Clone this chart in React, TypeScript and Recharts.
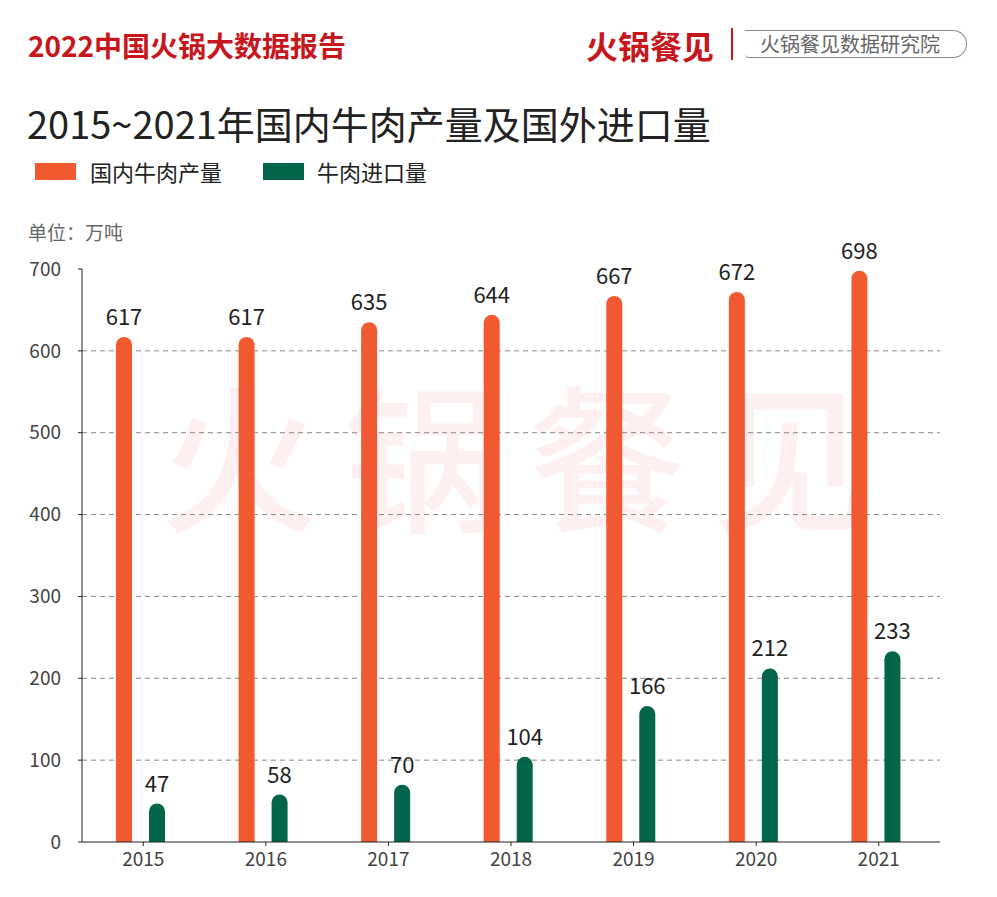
import { Bar, BarChart, CartesianGrid, LabelList, XAxis, YAxis } from "recharts";

const years = ["2015", "2016", "2017", "2018", "2019", "2020", "2021"];
const domestic = [617, 617, 635, 644, 667, 672, 698];
const imports = [47, 58, 70, 104, 166, 212, 233];
const yTicks = [0, 100, 200, 300, 400, 500, 600, 700];
const gridValues = [100, 200, 300, 400, 500, 600];

const rows = years.map((year, i) => ({ year, domestic: domestic[i], imports: imports[i] }));

const FONT = '"Noto Sans CJK SC", "Noto Sans", sans-serif';
const ORANGE = "#f15a31";
const GREEN = "#03664a";
const RED = "#c8161d";

// bars in the source sit a few px left of the band centre
const Shifted = (props: any) => {
  const { x, y, width, height, fill } = props;
  if (!height || height <= 0) return null;
  const r = Math.min(width / 2, height);
  const left = x - 3;
  const d = `M${left},${y + height} L${left},${y + r} A${r},${r} 0 0 1 ${left + width},${y + r} L${left + width},${y + height} Z`;
  return <path d={d} fill={fill} />;
};

export default function App() {
  return (
    <div style={{ position: "absolute", left: 0, top: 0, width: 997, height: 897, background: "#fff", fontFamily: FONT, overflow: "hidden" }}>
      <div style={{ position: "absolute", left: 28, top: 25, fontSize: 28, fontWeight: 700, color: RED, lineHeight: "40px" }}>
        2022中国火锅大数据报告
      </div>
      <div style={{ position: "absolute", left: 586, top: 23, fontSize: 32, fontWeight: 700, color: RED, lineHeight: "44px" }}>
        火锅餐见
      </div>
      <div style={{ position: "absolute", left: 731, top: 28, width: 2, height: 32, background: RED }} />
      <div
        style={{
          position: "absolute", left: 745, top: 30, width: 206, height: 26,
          borderTop: "1.5px solid #8a8a8a", borderBottom: "1.5px solid #8a8a8a", borderRight: "1.5px solid #8a8a8a",
          borderRadius: "0 14px 14px 4px", fontSize: 20, color: "#666", lineHeight: "26px", paddingLeft: 15, boxSizing: "content-box",
        }}
      >
        火锅餐见数据研究院
      </div>
      <div style={{ position: "absolute", left: 27, top: 98, fontSize: 38, color: "#222", lineHeight: "50px", fontWeight: 400 }}>
        2015~2021年国内牛肉产量及国外进口量
      </div>
      <div style={{ position: "absolute", left: 35, top: 163, width: 41, height: 17, background: ORANGE }} />
      <div style={{ position: "absolute", left: 90, top: 156, fontSize: 22, color: "#222", lineHeight: "30px" }}>国内牛肉产量</div>
      <div style={{ position: "absolute", left: 263, top: 163, width: 41, height: 17, background: GREEN }} />
      <div style={{ position: "absolute", left: 317, top: 156, fontSize: 22, color: "#222", lineHeight: "30px" }}>牛肉进口量</div>
      <div style={{ position: "absolute", left: 28, top: 218, fontSize: 19, color: "#666", lineHeight: "28px" }}>单位：万吨</div>

      <div style={{ position: "absolute", left: 0, top: 0 }}>
        <BarChart width={997} height={897} data={rows} margin={{ top: 269, right: 57, bottom: 15, left: 0 }} barSize={16} barGap={17}>
          <CartesianGrid horizontal vertical={false} horizontalValues={gridValues} stroke="#888" strokeDasharray="5 4" />
          <XAxis
            dataKey="year"
            height={40}
            stroke="#222"
            tickSize={4}
            tickMargin={7}
            tick={{ fill: "#444", fontSize: 19, fontFamily: FONT }}
            interval={0}
          />
          <YAxis
            width={82}
            domain={[0, 700]}
            ticks={yTicks}
            stroke="#222"
            tickSize={4}
            tickMargin={17}
            tick={{ fill: "#444", fontSize: 19, fontFamily: FONT }}
          />
          <Bar dataKey="domestic" fill={ORANGE} shape={Shifted} isAnimationActive={false}>
            <LabelList
              dataKey="domestic"
              content={(p: any) => (
                <text x={p.x + p.width / 2 - 3} y={p.y - 12} textAnchor="middle" fill="#222" fontSize={22} fontFamily={FONT}>
                  {p.value}
                </text>
              )}
            />
          </Bar>
          <Bar dataKey="imports" fill={GREEN} shape={Shifted} isAnimationActive={false}>
            <LabelList
              dataKey="imports"
              content={(p: any) => (
                <text x={p.x + p.width / 2 - 3} y={p.y - 12} textAnchor="middle" fill="#222" fontSize={22} fontFamily={FONT}>
                  {p.value}
                </text>
              )}
            />
          </Bar>
        </BarChart>
      </div>

      <div
        style={{
          position: "absolute", left: 160, top: 362, fontSize: 158, fontWeight: 500, color: "rgba(245, 90, 90, 0.09)",
          letterSpacing: 26, lineHeight: "180px", pointerEvents: "none", whiteSpace: "nowrap",
        }}
      >
        火锅餐见
      </div>
    </div>
  );
}
